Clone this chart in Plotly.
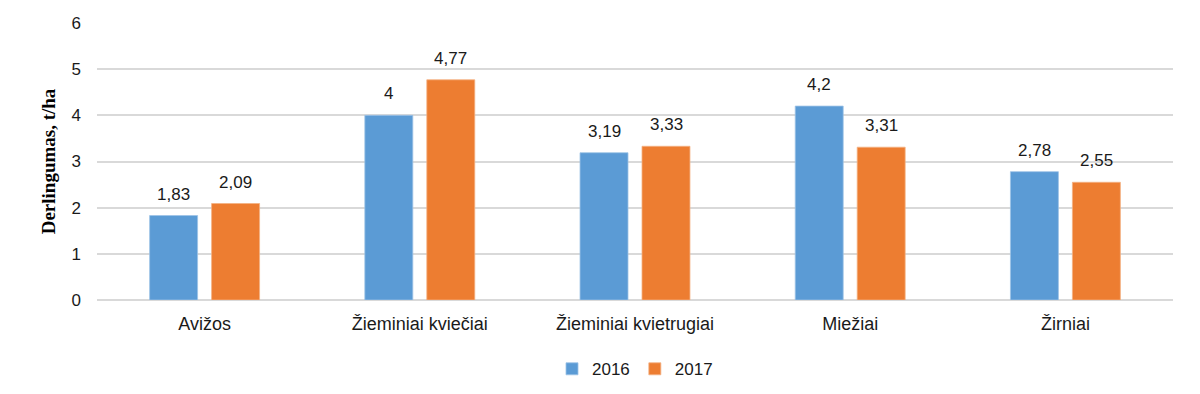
import plotly.graph_objects as go

categories = ["Avižos", "Žieminiai kviečiai", "Žieminiai kvietrugiai", "Miežiai", "Žirniai"]
values_2016 = [1.83, 4.0, 3.19, 4.2, 2.78]
values_2017 = [2.09, 4.77, 3.33, 3.31, 2.55]
series_names = ["2016", "2017"]
y_ticks = [0, 1, 2, 3, 4, 5, 6]

colors = ["#5B9BD5", "#ED7D31"]
edge = ["#9DC3E6", "#F4B183"]
text_font = "Liberation Sans, Arial, sans-serif"


def fmt(v):
    return f"{v:g}".replace(".", ",")


fig = go.Figure()
for name, vals, c, e in zip(series_names, [values_2016, values_2017], colors, edge):
    fig.add_trace(go.Bar(
        x=categories, y=vals, name=name,
        marker=dict(color=c, line=dict(color=e, width=0.8)),
        hoverinfo="x+y",
    ))

annotations = []
for vals, shift in [(values_2016, -31), (values_2017, 31)]:
    for cat, v in zip(categories, vals):
        annotations.append(dict(
            x=cat, y=v, xref="x", yref="y", text=fmt(v), showarrow=False,
            xshift=shift, yshift=10, yanchor="bottom", xanchor="center",
            font=dict(family=text_font, size=17, color="#1a1a1a"),
        ))

fig.update_layout(
    width=1200, height=394,
    margin=dict(l=89, r=35, t=15, b=102, autoexpand=False),
    paper_bgcolor="white", plot_bgcolor="white",
    barmode="group", bargap=0.424, bargroupgap=0.226,
    font=dict(family=text_font, size=16, color="#1a1a1a"),
    annotations=annotations,
    showlegend=True,
    legend=dict(orientation="h", x=0.5, xanchor="center", y=-0.25, yanchor="middle",
                font=dict(family=text_font, size=17, color="#1a1a1a"),
                itemwidth=30, traceorder="normal"),
)
fig.update_xaxes(showgrid=False, showline=False, ticks="", automargin=False,
                 tickfont=dict(family=text_font, size=18, color="#1a1a1a"),
                 ticklabelstandoff=11)
fig.update_yaxes(range=[0, 6], tickvals=y_ticks, ticktext=[str(t) for t in y_ticks],
                 showgrid=True, gridcolor="#D9D9D9", gridwidth=1.5,
                 zeroline=True, zerolinecolor="#D9D9D9", zerolinewidth=1.5,
                 showline=False, ticks="", ticklabelstandoff=15, automargin=False,
                 tickfont=dict(family=text_font, size=17, color="#1a1a1a"),
                 title=dict(text="<b>Derlingumas, t/ha</b>", standoff=10,
                            font=dict(family="Liberation Serif, Times New Roman, serif", size=19, color="#000000")))

fig.write_html("out.html")
